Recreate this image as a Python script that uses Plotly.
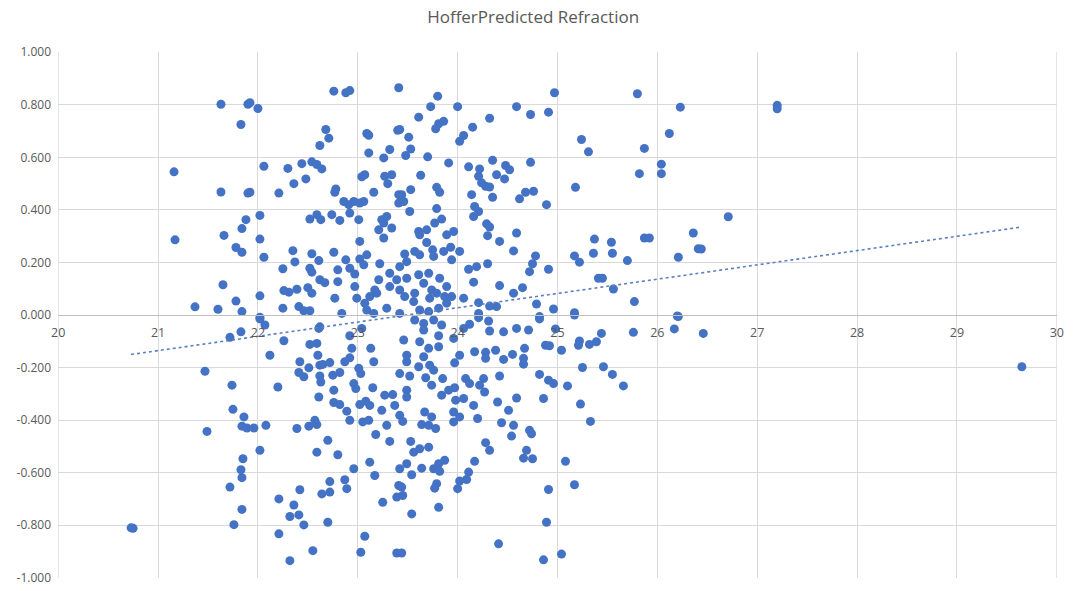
import plotly.graph_objects as go

# (axial length, predicted refraction error) pairs
samples = [
    (21.63, 0.802), (21.90, 0.802), (21.83, 0.725), (21.16, 0.545), (21.63, 0.468), (21.90, 0.464),
    (21.88, 0.363), (21.84, 0.329), (21.17, 0.286), (21.66, 0.303), (21.78, 0.257), (21.84, 0.239),
    (21.65, 0.115), (21.78, 0.053), (21.37, 0.031), (21.60, 0.022), (21.84, 0.013),
    (21.92, 0.808), (22.00, 0.786), (22.76, 0.852), (22.88, 0.846), (22.92, 0.854), (23.41, 0.865),
    (22.68, 0.706), (22.71, 0.673), (22.62, 0.645), (23.09, 0.691), (23.11, 0.684), (23.40, 0.703),
    (23.11, 0.617), (23.32, 0.630), (23.26, 0.598), (22.06, 0.566), (22.30, 0.558), (22.44, 0.576),
    (22.54, 0.583), (22.59, 0.573), (22.64, 0.556), (22.36, 0.500), (22.48, 0.518), (22.21, 0.464),
    (21.92, 0.467), (22.78, 0.480), (22.77, 0.467), (23.04, 0.526), (23.07, 0.534), (23.16, 0.467),
    (23.27, 0.528), (23.34, 0.534), (23.30, 0.500), (23.41, 0.458), (23.41, 0.426), (22.86, 0.432),
    (22.91, 0.420), (22.96, 0.432), (22.92, 0.388), (23.02, 0.426), (23.06, 0.432), (22.02, 0.379),
    (22.52, 0.365), (22.59, 0.382), (22.63, 0.363), (22.74, 0.382), (22.82, 0.360), (23.01, 0.363),
    (23.24, 0.363), (23.29, 0.375), (23.26, 0.350), (23.21, 0.324), (23.34, 0.331), (23.26, 0.293),
    (22.02, 0.289), (23.02, 0.280), (22.06, 0.220), (22.35, 0.245), (22.37, 0.202), (22.54, 0.233),
    (22.61, 0.207), (22.25, 0.176), (22.52, 0.178), (22.54, 0.163), (22.76, 0.239), (22.80, 0.172),
    (22.88, 0.210), (22.92, 0.178), (22.97, 0.156), (23.02, 0.213), (23.09, 0.229), (23.06, 0.191),
    (23.22, 0.195), (23.32, 0.159), (23.21, 0.134), (23.17, 0.095), (23.32, 0.108), (23.39, 0.134),
    (22.26, 0.093), (22.31, 0.087), (22.39, 0.098), (22.50, 0.104), (22.54, 0.083), (22.62, 0.134),
    (22.67, 0.123), (22.80, 0.127), (22.97, 0.108), (22.02, 0.073), (22.77, 0.064), (22.99, 0.064),
    (23.07, 0.045), (23.12, 0.070), (23.19, 0.083), (22.25, 0.026), (22.41, 0.032), (22.46, 0.016),
    (22.52, 0.016), (22.84, 0.006), (23.09, 0.019), (23.16, 0.006), (23.29, 0.026), (22.02, -0.009),
    (23.80, 0.833), (23.73, 0.793), (24.00, 0.793), (24.59, 0.793), (24.73, 0.763), (24.91, 0.772),
    (23.61, 0.753), (23.86, 0.737), (23.81, 0.728), (23.78, 0.709), (24.32, 0.749), (24.15, 0.715),
    (24.06, 0.683), (24.02, 0.661), (23.42, 0.706), (23.51, 0.677), (23.53, 0.632), (23.48, 0.607),
    (23.70, 0.602), (23.91, 0.579), (24.11, 0.564), (24.22, 0.556), (24.35, 0.589), (24.39, 0.534),
    (24.48, 0.569), (24.52, 0.553), (24.47, 0.518), (24.73, 0.581), (24.21, 0.528), (24.24, 0.503),
    (24.28, 0.490), (24.32, 0.487), (23.63, 0.532), (23.79, 0.486), (23.82, 0.467), (23.53, 0.477),
    (23.44, 0.458), (23.46, 0.432), (23.52, 0.394), (24.14, 0.458), (24.17, 0.413), (24.21, 0.394),
    (24.16, 0.375), (24.35, 0.448), (24.62, 0.442), (24.68, 0.467), (24.76, 0.471), (24.89, 0.420),
    (23.79, 0.405), (23.84, 0.365), (23.77, 0.350), (24.29, 0.347), (24.32, 0.335), (24.30, 0.302),
    (24.42, 0.280), (24.59, 0.312), (24.56, 0.244), (23.61, 0.318), (23.69, 0.324), (23.62, 0.305),
    (23.89, 0.305), (23.96, 0.318), (23.69, 0.276), (23.75, 0.248), (23.76, 0.223), (23.86, 0.242),
    (23.93, 0.258), (24.02, 0.242), (23.94, 0.210), (23.47, 0.232), (23.57, 0.242), (23.62, 0.229),
    (23.49, 0.203), (23.42, 0.184), (24.78, 0.225), (24.75, 0.195), (24.72, 0.165), (24.91, 0.174),
    (24.11, 0.174), (24.19, 0.184), (24.30, 0.195), (24.16, 0.125), (24.42, 0.112), (24.65, 0.104),
    (24.56, 0.083), (23.49, 0.140), (23.61, 0.153), (23.71, 0.159), (23.82, 0.140), (23.66, 0.121),
    (23.74, 0.095), (23.79, 0.083), (23.89, 0.108), (23.42, 0.095), (23.47, 0.070), (23.57, 0.083),
    (23.56, 0.051), (23.87, 0.070), (23.94, 0.070), (23.72, 0.064), (24.06, 0.064), (23.89, 0.045),
    (24.21, 0.047), (24.32, 0.034), (24.39, 0.032), (24.79, 0.042), (23.62, 0.019), (23.71, 0.013),
    (23.81, 0.026), (23.42, 0.006), (24.21, 0.006), (24.82, -0.006),
    (24.97, 0.846), (25.80, 0.842), (26.23, 0.791), (26.12, 0.691), (25.24, 0.668), (25.31, 0.621),
    (25.87, 0.634), (26.04, 0.574), (26.04, 0.538), (25.82, 0.538), (25.18, 0.486), (25.37, 0.289),
    (25.54, 0.277), (25.87, 0.293), (25.92, 0.293), (25.36, 0.235), (25.55, 0.235), (25.17, 0.225),
    (25.22, 0.201), (25.70, 0.207), (26.21, 0.220), (26.36, 0.312), (26.41, 0.252), (25.41, 0.140),
    (25.45, 0.140), (25.56, 0.099), (25.77, 0.051), (24.96, 0.023), (25.17, 0.009), (26.20, -0.004),
    (27.20, 0.798), (27.20, 0.785), (26.71, 0.374), (26.44, 0.251), (26.46, -0.070), (29.65, -0.197),
    (21.83, -0.064), (21.72, -0.085), (21.47, -0.214), (21.74, -0.267), (21.75, -0.359), (21.86, -0.388),
    (21.84, -0.423), (21.89, -0.430), (21.49, -0.443), (21.85, -0.547), (21.83, -0.589), (21.84, -0.619),
    (21.72, -0.655), (21.84, -0.740), (21.76, -0.798), (20.75, -0.812), (20.73, -0.810),
    (22.02, -0.015), (22.07, -0.038), (22.26, -0.098), (22.12, -0.153), (22.62, -0.045), (22.61, -0.051),
    (22.92, -0.079), (23.04, -0.051), (22.52, -0.112), (22.59, -0.108), (22.60, -0.153), (22.42, -0.178),
    (22.51, -0.201), (22.41, -0.219), (22.46, -0.235), (22.62, -0.191), (22.65, -0.188), (22.72, -0.181),
    (22.62, -0.232), (22.63, -0.255), (22.75, -0.229), (22.82, -0.219), (22.87, -0.178), (22.92, -0.163),
    (22.94, -0.127), (23.01, -0.203), (23.03, -0.223), (23.16, -0.178), (23.13, -0.127), (22.20, -0.274),
    (22.61, -0.312), (22.76, -0.286), (22.96, -0.261), (22.98, -0.280), (23.15, -0.277), (22.76, -0.333),
    (22.82, -0.341), (22.89, -0.366), (22.92, -0.401), (23.02, -0.341), (23.08, -0.328), (23.12, -0.344),
    (23.05, -0.407), (23.11, -0.401), (23.24, -0.363), (23.27, -0.305), (23.35, -0.303), (23.37, -0.344),
    (23.29, -0.420), (23.18, -0.455), (23.32, -0.481), (21.96, -0.430), (22.08, -0.420), (22.39, -0.432),
    (22.51, -0.423), (22.57, -0.401), (22.59, -0.417), (22.70, -0.477), (22.02, -0.515), (22.59, -0.522),
    (22.80, -0.532), (22.96, -0.585), (23.12, -0.560), (23.17, -0.611), (22.72, -0.634), (22.87, -0.627),
    (22.89, -0.661), (22.42, -0.665), (22.64, -0.681), (22.72, -0.674), (22.21, -0.700), (22.36, -0.723),
    (22.41, -0.761), (22.32, -0.767), (22.46, -0.799), (22.70, -0.789), (23.25, -0.713), (23.39, -0.693),
    (23.41, -0.649), (22.21, -0.833), (23.07, -0.842), (22.55, -0.897), (23.03, -0.903), (22.32, -0.935),
    (23.39, -0.906),
    (23.57, -0.019), (23.66, -0.032), (23.76, -0.019), (23.84, -0.038), (23.66, -0.057), (23.81, -0.079),
    (23.46, -0.095), (23.62, -0.102), (23.96, -0.089), (24.06, -0.051), (24.12, -0.035), (24.21, -0.010),
    (24.31, -0.023), (24.32, -0.061), (24.46, -0.064), (24.59, -0.051), (24.71, -0.057), (24.82, -0.015),
    (23.71, -0.127), (23.81, -0.121), (23.49, -0.153), (23.66, -0.159), (23.49, -0.178), (23.61, -0.197),
    (23.72, -0.191), (23.76, -0.210), (24.02, -0.153), (23.97, -0.182), (24.17, -0.140), (24.28, -0.142),
    (24.28, -0.165), (24.38, -0.134), (24.46, -0.169), (24.55, -0.150), (24.67, -0.127), (24.66, -0.165),
    (24.66, -0.187), (24.88, -0.115), (23.42, -0.223), (23.52, -0.232), (23.68, -0.239), (23.74, -0.267),
    (23.85, -0.242), (24.08, -0.242), (24.12, -0.261), (24.22, -0.267), (24.26, -0.242), (24.27, -0.293),
    (24.42, -0.232), (24.82, -0.226), (24.91, -0.248), (23.49, -0.286), (23.49, -0.312), (23.84, -0.305),
    (23.91, -0.286), (23.97, -0.277), (23.98, -0.324), (24.06, -0.318), (24.16, -0.344), (24.40, -0.331),
    (24.51, -0.363), (24.59, -0.316), (24.86, -0.318), (23.42, -0.382), (23.45, -0.405), (23.67, -0.369),
    (23.74, -0.388), (23.64, -0.417), (23.71, -0.420), (23.78, -0.432), (23.96, -0.369), (23.96, -0.407),
    (24.02, -0.388), (24.20, -0.394), (24.44, -0.410), (24.56, -0.420), (24.54, -0.461), (24.72, -0.439),
    (24.74, -0.452), (23.53, -0.481), (23.56, -0.522), (23.62, -0.509), (23.71, -0.503), (24.28, -0.486),
    (24.32, -0.515), (24.69, -0.515), (24.66, -0.545), (24.75, -0.547), (23.49, -0.566), (23.42, -0.585),
    (23.54, -0.608), (23.64, -0.583), (23.76, -0.585), (23.81, -0.566), (23.87, -0.553), (23.82, -0.595),
    (24.17, -0.557), (24.11, -0.598), (24.09, -0.626), (24.02, -0.632), (24.00, -0.661), (23.79, -0.642),
    (23.77, -0.659), (23.44, -0.655), (23.45, -0.687), (24.91, -0.664), (23.81, -0.732), (23.54, -0.757),
    (24.89, -0.789), (24.41, -0.871), (23.44, -0.906), (24.86, -0.932),
    (25.17, 0.000), (26.21, -0.006), (24.98, -0.053), (26.17, -0.053), (25.44, -0.070), (25.76, -0.066),
    (25.22, -0.099), (25.21, -0.115), (25.32, -0.112), (25.39, -0.102), (25.04, -0.134), (24.92, -0.117),
    (25.25, -0.200), (25.46, -0.197), (25.55, -0.226), (25.66, -0.270), (24.96, -0.261), (25.10, -0.270),
    (25.23, -0.339), (25.33, -0.405), (25.08, -0.557), (25.17, -0.646), (25.04, -0.910),
]
axial_length = [p[0] for p in samples]
refraction_error = [p[1] for p in samples]

# linear trendline (y = slope * x + intercept)
trend_slope = 0.0544
trend_intercept = -1.278

x_tick_values = [20, 21, 22, 23, 24, 25, 26, 27, 28, 29, 30]
y_tick_values = [1.0, 0.8, 0.6, 0.4, 0.2, 0.0, -0.2, -0.4, -0.6, -0.8, -1.0]
y_tick_labels = ["1.000", "0.800", "0.600", "0.400", "0.200", "0.000",
                 "-0.200", "-0.400", "-0.600", "-0.800", "-1.000"]

blue = "#4472C4"
grey_text = "#595959"
grid = "#d9d9d9"

trend_x = [min(axial_length), max(axial_length)]
trend_y = [trend_slope * v + trend_intercept for v in trend_x]

fig = go.Figure()
fig.add_trace(go.Scatter(
    x=axial_length, y=refraction_error, mode="markers",
    marker=dict(color=blue, size=9, line=dict(width=0)),
    hoverinfo="x+y",
))
fig.add_trace(go.Scatter(
    x=trend_x, y=trend_y, mode="lines",
    line=dict(color="#5B7FBF", width=1.6, dash="dot"),
    hoverinfo="skip",
))

# vertical gridlines on the plot's left and right borders (first and last x ticks)
for edge in (x_tick_values[0], x_tick_values[-1]):
    fig.add_shape(type="line", xref="x", yref="paper", x0=edge, x1=edge, y0=0, y1=1,
                  line=dict(color=grid, width=1), layer="below")

fig.update_layout(
    width=1077, height=591,
    margin=dict(l=58, r=20, t=52, b=13, autoexpand=False),
    paper_bgcolor="white", plot_bgcolor="white",
    showlegend=False,
    font=dict(family="Open Sans, Liberation Sans, sans-serif", color=grey_text, size=12),
    title=dict(
        text="HofferPredicted Refraction",
        x=0.495, xref="container", xanchor="center",
        y=1 - 17 / 591, yref="container", yanchor="middle",
        font=dict(size=17, color=grey_text),
    ),
    xaxis=dict(
        range=[19.998, 30.002], tickvals=x_tick_values,
        showgrid=True, gridcolor=grid, gridwidth=1,
        zeroline=False, showline=True, linecolor="#bfbfbf", linewidth=1,
        anchor="free", position=0.5, ticks="", ticklabelstandoff=6,
        tickfont=dict(size=12.5, color=grey_text),
    ),
    yaxis=dict(
        range=[-1.001, 1.001], tickvals=y_tick_values, ticktext=y_tick_labels,
        showgrid=True, gridcolor=grid, gridwidth=1,
        zeroline=False, showline=False, ticks="", ticklabelstandoff=6,
        tickfont=dict(size=12, color=grey_text),
    ),
)

fig.write_html("out.html", config={"displayModeBar": False})

# remove the browser's default body margin so the figure sits at the page's top-left
with open("out.html", "r", encoding="utf-8") as fh:
    page = fh.read()
page = page.replace("<head>", "<head><style>html,body{margin:0;padding:0;overflow:hidden;}</style>", 1)
with open("out.html", "w", encoding="utf-8") as fh:
    fh.write(page)
